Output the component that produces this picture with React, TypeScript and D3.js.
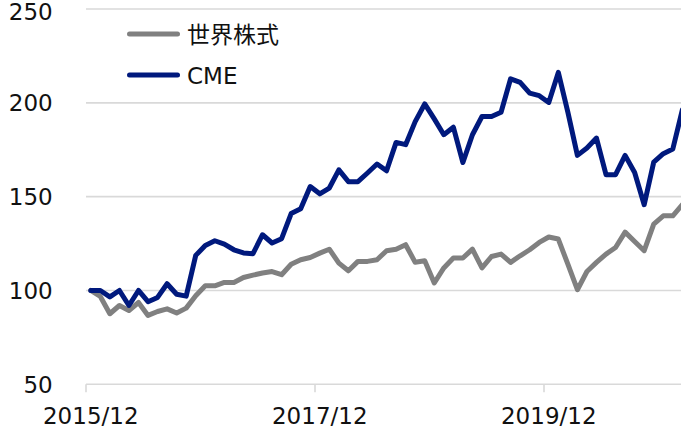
import React from "react";
import * as d3 from "d3";

const worldEquity = [
  100, 96.8, 87.6, 92, 89.3, 93.6, 86.7, 88.8, 90.2, 88, 90.6, 97.2,
  102.5, 102.5, 104.3, 104.3, 106.9, 108.2, 109.3, 110.1, 108.4, 114, 116.4, 117.6,
  119.9, 122, 114.6, 110.5, 115.5, 115.5, 116.4, 121.2, 122, 124.4, 115, 115.8,
  104, 112, 117.3, 117.3, 122, 112, 118.1, 119.4, 115, 118.5, 121.7, 125.6,
  128.5, 127.4, 114, 100.4, 110.1, 115, 119.4, 122.9, 131.1, 126.1, 121.2, 135.4,
  139.8, 139.8, 145.7,
];
const cme = [
  100, 100, 96.6, 100, 92, 100, 94, 96.3, 103.6, 98, 97, 118.7,
  124, 126.5, 124.7, 121.7, 120, 119.6, 129.7, 125.3, 127.6, 141, 143.5, 155.4,
  151.5, 154.6, 164.3, 158, 158, 162.6, 167.4, 163.8, 178.9, 177.7, 190, 199.4,
  191.4, 183, 187, 168.2, 183, 192.7, 192.7, 195, 212.8, 210.9, 205.2, 203.8,
  200.2, 216.2, 195, 172, 175.9, 181.2, 161.7, 161.7, 172, 162.9, 145.7, 168.4,
  172.9, 175.4, 196.3,
];
const seriesNames = ["世界株式", "CME"];
const seriesColors = ["#808080", "#00197d"];
const yTicks = [50, 100, 150, 200, 250];
const xTickLabels = ["2015/12", "2017/12", "2019/12"];
const xTickIndex = [0, 24, 48];

const W = 681;
const H = 430;
const FONT = "Verdana, 'DejaVu Sans', 'Noto Sans CJK JP', sans-serif";

export default function App() {
  const monthW = (544 - 86) / 48;
  const x = d3
    .scaleLinear()
    .domain([-0.5, 47.5])
    .range([86, 544]);
  const y = d3.scaleLinear().domain([50, 250]).range([384.3, 9]);

  const line = d3
    .line<number>()
    .x((_, i) => x(i))
    .y((d) => y(d));

  const series = [worldEquity, cme];

  return (
    <svg
      width={W}
      height={H}
      style={{ position: "absolute", left: 0, top: 0, background: "#fff" }}
      fontFamily={FONT}
    >
      <defs>
        <clipPath id="plot">
          <rect x={0} y={0} width={W} height={H} />
        </clipPath>
      </defs>
      {yTicks.map((t) => (
        <g key={t}>
          <line
            x1={86}
            x2={W}
            y1={y(t)}
            y2={y(t)}
            stroke="#d9d9d9"
            strokeWidth={1.6}
          />
          <text
            x={52.7}
            y={Math.max(y(t) + 8.5, 20)}
            textAnchor="end"
            fontSize={23}
            fill="#111"
          >
            {t}
          </text>
        </g>
      ))}
      {xTickIndex.map((ti, k) => (
        <g key={ti}>
          <line
            x1={x(ti) - monthW / 2}
            x2={x(ti) - monthW / 2}
            y1={y(50)}
            y2={y(50) + 8}
            stroke="#d9d9d9"
            strokeWidth={1.6}
          />
          <text
            x={x(ti)}
            y={424}
            textAnchor="middle"
            fontSize={23}
            fill="#111"
          >
            {xTickLabels[k]}
          </text>
        </g>
      ))}
      <g clipPath="url(#plot)">
        {series.map((s, k) => (
          <path
            key={k}
            d={line(s) || ""}
            fill="none"
            stroke={seriesColors[k]}
            strokeWidth={5}
            strokeLinejoin="round"
            strokeLinecap="round"
          />
        ))}
      </g>
      {seriesNames.map((n, k) => {
        const ly = [34, 75][k];
        return (
          <g key={n}>
            <line
              x1={129.5}
              x2={177.5}
              y1={ly}
              y2={ly}
              stroke={seriesColors[k]}
              strokeWidth={5}
              strokeLinecap="round"
            />
            <text x={187} y={ly + 8.5} fontSize={23} fill="#111">
              {n}
            </text>
          </g>
        );
      })}
    </svg>
  );
}
